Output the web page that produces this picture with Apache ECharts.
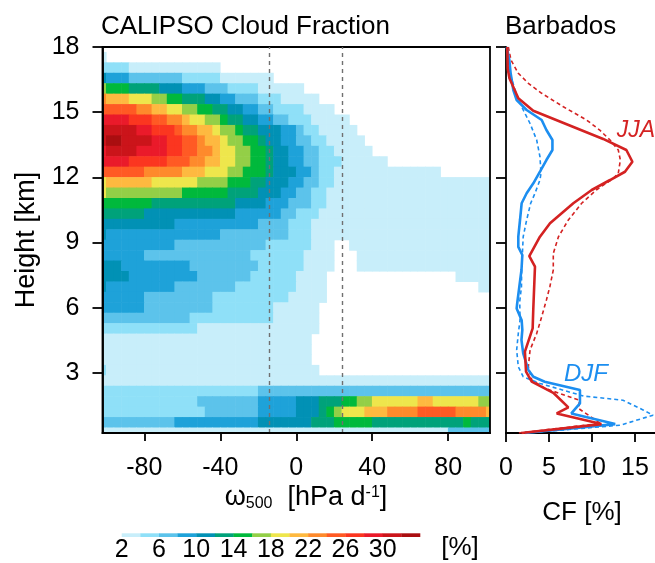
<!DOCTYPE html>
<html><head><meta charset="utf-8">
<script src="https://cdn.jsdelivr.net/npm/echarts@6/dist/echarts.min.js"></script>
<style>html,body{margin:0;padding:0;background:#fff}#c{width:655px;height:563px}</style>
</head><body><div id="c"></div>
<script>
// ---------- DATA ----------
const omega = [-102,-98,-94,-90,-86,-82,-78,-74,-70,-66,-62,-58,-54,-50,-46,-42,-38,-34,-30,-26,-22,-18,-14,-10,-6,-2,2,6,10,14,18,22,26,30,34,38,42,46,50,54,58,62,66,70,74,78,82,86,90,94,98,102];
const heightKm = [18.00,17.52,17.04,16.56,16.08,15.60,15.12,14.64,14.16,13.68,13.20,12.72,12.24,11.76,11.28,10.80,10.32,9.84,9.36,8.88,8.40,7.92,7.44,6.96,6.48,6.00,5.52,5.04,4.56,4.08,3.60,3.12,2.64,2.16,1.68,1.20,0.72,0.24];
const omegaBinWidth = 4;
const heightBinWidth = 0.48;
// cloud fraction [%], rows from top (18 km) to bottom (0.24 km), columns follow omega
const cloudFraction = [
[1,1,1,1,1,1,1,1,1,1,1,1,1,1,1,1,1,1,1,1,1,1,1,1,1,1,1,1,1,1,1,1,1,1,1,1,1,1,1,1,1,1,1,1,1,1,1,1,1,1,1,1],
[3,1,1,1,1,1,1,1,1,1,1,1,1,1,1,1,1,1,1,1,1,1,1,1,1,1,1,1,1,1,1,1,1,1,1,1,1,1,1,1,1,1,1,1,1,1,1,1,1,1,1,1],
[5,5,5,5,3,3,3,3,3,3,3,3,3,3,3,3,1,1,1,1,1,1,1,1,1,1,1,1,1,1,1,1,1,1,1,1,1,1,1,1,1,1,1,1,1,1,1,1,1,1,1,1],
[11,9,9,9,7,7,7,7,7,7,7,5,5,5,5,5,3,3,3,3,3,3,3,1,1,1,1,1,1,1,1,1,1,1,1,1,1,1,1,1,1,1,1,1,1,1,1,1,1,1,1,1],
[17,15,15,15,13,13,13,13,11,11,11,9,9,9,7,7,7,5,5,5,5,3,3,3,3,3,3,1,1,1,1,1,1,1,1,1,1,1,1,1,1,1,1,1,1,1,1,1,1,1,1,1],
[23,21,21,21,19,19,19,17,17,15,15,13,13,13,11,11,9,9,7,7,7,5,5,5,3,3,3,3,3,1,1,1,1,1,1,1,1,1,1,1,1,1,1,1,1,1,1,1,1,1,1,1],
[25,25,25,25,25,23,23,21,21,19,19,17,17,15,15,13,13,11,11,9,9,7,7,5,5,5,5,3,3,3,3,1,1,1,1,1,1,1,1,1,1,1,1,1,1,1,1,1,1,1,1,1],
[29,29,29,29,27,27,27,25,25,23,23,21,19,19,17,17,15,13,13,11,11,9,9,7,7,5,5,5,3,3,3,3,3,1,1,1,1,1,1,1,1,1,1,1,1,1,1,1,1,1,1,1],
[31,31,31,31,31,29,29,27,27,27,25,23,23,21,21,19,17,17,15,13,13,11,11,11,9,9,7,5,5,3,3,3,3,3,1,1,1,1,1,1,1,1,1,1,1,1,1,1,1,1,1,1],
[31,33,33,31,31,31,31,29,29,27,27,25,25,23,21,21,19,17,17,15,15,13,11,11,9,9,7,7,5,5,3,3,3,3,3,1,1,1,1,1,1,1,1,1,1,1,1,1,1,1,1,1],
[29,31,31,31,31,29,29,29,29,27,27,25,25,23,23,21,19,19,17,17,15,15,13,11,11,9,9,7,7,5,5,3,3,3,3,3,1,1,1,1,1,1,1,1,1,1,1,1,1,1,1,1],
[29,29,29,29,27,27,27,27,27,25,25,25,23,23,21,21,19,19,17,17,15,15,13,11,11,9,9,7,7,5,5,5,3,3,3,3,3,3,1,1,1,1,1,1,1,1,1,1,1,1,1,1],
[25,25,25,25,25,25,23,23,23,23,23,21,21,21,19,19,19,17,17,15,15,15,13,11,11,11,9,9,7,5,5,3,3,3,3,3,3,3,3,3,3,3,3,3,3,1,1,1,1,1,1,1],
[19,21,21,21,21,21,21,19,19,19,19,19,19,17,17,17,17,15,15,15,13,13,11,11,11,9,9,7,7,5,5,3,3,3,3,3,3,3,3,3,3,3,3,3,3,3,3,3,3,3,3,3],
[19,17,17,17,17,17,17,17,17,17,17,15,15,15,15,15,15,13,13,13,13,11,11,11,9,9,7,7,5,5,3,3,3,3,3,3,3,3,3,3,3,3,3,3,3,3,3,3,3,3,3,3],
[15,15,15,15,15,15,15,13,13,13,13,13,13,13,13,13,13,13,11,11,11,11,9,9,9,7,7,7,5,5,3,3,3,3,3,3,3,3,3,3,3,3,3,3,3,3,3,3,3,3,3,3],
[13,13,13,13,13,13,11,11,11,11,11,11,11,11,11,11,11,11,9,9,9,9,9,9,7,7,5,5,5,3,3,3,3,3,3,3,3,3,3,3,3,3,3,3,3,3,3,3,3,3,3,3],
[11,11,11,11,11,11,11,11,11,11,9,9,9,9,9,9,9,9,9,9,9,7,7,7,7,5,5,5,3,3,3,3,3,3,3,3,3,3,3,3,3,3,3,3,3,3,3,3,3,3,3,3],
[11,9,9,9,9,9,9,9,9,9,9,9,9,9,9,9,7,7,7,7,7,7,7,7,7,5,5,5,3,3,3,3,3,3,3,3,3,3,3,3,3,3,3,3,3,3,3,3,3,3,3,3],
[9,9,9,9,9,9,9,9,9,9,7,7,7,7,7,7,7,7,7,7,7,7,5,5,5,5,5,5,3,3,3,1,1,3,3,3,3,3,3,3,3,3,3,3,3,3,3,3,3,3,3,3],
[9,9,9,9,9,9,7,7,7,7,7,7,7,7,7,7,7,7,7,7,5,5,5,5,5,5,5,3,3,3,3,1,1,1,3,3,3,3,3,3,3,3,3,3,3,3,3,3,3,3,3,3],
[11,11,11,9,9,9,9,9,9,9,9,9,7,7,7,7,7,7,7,7,7,5,5,5,5,5,5,3,3,3,3,1,1,1,3,3,3,3,3,3,3,3,3,3,3,3,3,3,3,3,3,3],
[11,11,11,11,9,9,9,9,9,9,9,9,9,7,7,7,7,7,7,7,5,5,5,5,5,5,3,3,3,3,1,1,1,1,1,1,1,1,1,1,1,1,1,1,1,1,1,3,3,3,3,3],
[11,9,9,9,9,9,9,9,9,9,7,7,7,7,7,7,7,7,5,5,5,5,5,5,5,5,3,3,3,3,1,1,1,1,1,1,1,1,1,1,1,1,1,1,1,1,1,1,1,1,3,3],
[9,9,9,9,9,9,7,7,7,7,7,7,7,7,7,5,5,5,5,5,5,5,5,5,5,3,3,3,3,3,1,1,1,1,1,1,1,1,1,1,1,1,1,1,1,1,1,1,1,1,1,1],
[9,9,9,9,9,9,7,7,7,7,7,7,7,7,7,5,5,5,5,5,5,5,5,3,3,3,3,3,3,1,1,1,1,1,1,1,1,1,1,1,1,1,1,1,1,1,1,1,1,1,1,1],
[7,7,7,7,7,7,7,7,7,7,7,7,5,5,5,5,5,5,5,5,5,5,5,3,3,3,3,3,3,1,1,1,1,1,1,1,1,1,1,1,1,1,1,1,1,1,1,1,1,1,1,1],
[5,5,5,5,5,5,5,5,5,5,5,5,5,3,3,3,3,3,3,3,3,3,3,3,3,3,3,3,3,1,1,1,1,1,1,1,1,1,1,1,1,1,1,1,1,1,1,1,1,1,1,1],
[3,3,3,3,3,3,3,3,3,3,3,3,3,3,3,3,3,3,3,3,3,3,3,3,3,3,3,3,1,1,1,1,1,1,1,1,1,1,1,1,1,1,1,1,1,1,1,1,1,1,1,1],
[3,3,3,3,3,3,3,3,3,3,3,3,3,3,3,3,3,3,3,3,3,3,3,3,3,3,3,3,1,1,1,1,1,1,1,1,1,1,1,1,1,1,1,1,1,1,1,1,1,1,1,1],
[3,3,3,3,3,3,3,3,3,3,3,3,3,3,3,3,3,3,3,3,3,3,3,3,3,3,3,3,1,1,1,1,1,1,1,1,1,1,1,1,1,1,1,1,1,1,1,1,1,1,1,1],
[5,3,3,3,3,3,3,3,3,3,3,3,3,3,3,3,3,3,3,3,3,3,3,3,3,3,3,3,3,1,1,1,1,1,1,1,1,1,1,1,1,1,1,1,1,1,1,1,1,1,1,1],
[3,3,3,3,3,3,3,3,3,3,3,3,3,3,3,3,3,3,3,3,3,3,3,3,3,3,3,3,3,3,3,3,3,3,3,3,3,3,3,3,3,3,3,3,3,3,3,3,3,3,3,3],
[5,5,5,5,5,5,5,5,5,5,5,5,5,5,5,5,5,5,5,5,5,7,7,7,7,7,7,7,7,7,7,7,7,7,7,7,7,7,7,7,7,7,7,7,7,7,7,7,7,7,7,7],
[5,5,5,5,5,5,5,5,5,5,5,5,5,7,7,7,7,7,7,7,7,9,9,9,9,9,11,11,11,13,13,13,15,15,17,17,19,19,19,19,19,19,21,21,19,19,19,19,19,19,17,17],
[5,5,5,5,5,5,5,5,5,5,5,5,5,5,7,7,7,7,7,7,7,9,9,9,9,9,11,11,11,13,15,17,19,19,19,21,21,21,23,23,23,23,25,25,25,25,25,23,23,23,23,21],
[7,7,7,7,7,7,7,7,7,7,9,9,9,9,9,9,9,9,9,9,9,11,11,11,11,11,11,11,13,13,13,15,15,15,15,15,13,13,13,13,13,13,13,13,13,13,13,13,15,13,13,13],
[3,3,3,3,3,3,3,3,3,3,3,3,3,3,3,3,3,3,3,3,3,3,3,3,3,3,3,3,3,3,3,3,3,3,3,3,3,3,3,3,3,3,3,3,3,3,7,7,7,7,7,7]
];
const cfLevels = [2,4,6,8,10,12,14,16,18,20,22,24,26,28,30,32];
const cfColors = ['#c8eefa','#8fe0f8','#5cc3eb','#1ea2d9','#0191b5','#00a27a','#00b93c','#93cf47','#eee64c','#feb940','#fe8a2c','#ff5a24','#fb3620','#ea1a2a','#cb141a','#aa0e10'];
const colorbarLabels = [2,6,10,14,18,22,26,30];
const omegaTicks = [-80,-40,0,40,80];
const heightTicks = [3,6,9,12,15,18];
const cfTicks = [0,5,10,15];
const omegaMarks = [-14, 24];
// Barbados profiles [CF %, height km]
const jjaSolid = [[0.15,18.0],[0.2,17.0],[0.4,16.56],[1.43,15.64],[3.17,15.07],[11.3,13.77],[14.0,13.26],[14.7,12.72],[13.84,12.26],[12.1,11.88],[9.97,11.42],[7.83,10.81],[5.12,9.89],[3.95,9.27],[2.71,8.38],[3.37,7.89],[3.17,5.9],[3.1,5.05],[2.2,3.98],[2.33,3.06],[2.99,2.6],[5.5,2.09],[7.25,1.42],[5.9,1.14],[11.1,0.65],[1.8,0.24]];
const jjaDashed = [[0.27,18.0],[0.58,17.4],[1.43,16.79],[2.6,16.33],[4.15,15.87],[6.67,15.25],[9.38,14.64],[10.9,14.18],[12.1,13.72],[13.06,13.26],[13.3,12.8],[13.06,12.19],[12.5,11.96],[10.5,11.42],[8.8,10.81],[7.25,10.04],[6.1,9.27],[5.5,8.5],[5.5,7.74],[5.1,6.97],[4.7,6.36],[4.15,5.59],[3.57,4.82],[2.8,4.06],[2.6,3.29],[3.0,2.68],[4.5,2.3],[8.5,1.75],[8.5,1.35],[11.0,0.68],[1.5,0.24]];
const djfSolid = [[0.08,18.0],[0.39,17.4],[0.54,16.79],[0.85,16.02],[1.24,15.56],[2.4,15.1],[4.15,14.64],[4.7,14.18],[5.4,13.72],[5.4,13.26],[4.7,12.8],[4.0,12.3],[3.18,11.73],[2.4,11.27],[1.82,10.81],[1.63,10.04],[1.43,9.27],[1.43,8.8],[1.9,8.43],[1.8,7.74],[1.55,6.97],[1.3,6.2],[1.24,5.97],[1.82,5.43],[1.9,4.98],[1.8,4.52],[2.0,3.9],[2.6,3.14],[3.18,2.83],[4.5,2.6],[8.6,2.22],[8.6,1.6],[7.6,1.14],[12.7,0.65],[2.2,0.24]];
const djfDashed = [[0.15,18.0],[0.27,17.4],[0.47,16.79],[1.05,16.02],[1.82,15.25],[2.8,14.48],[3.57,13.72],[3.95,12.95],[4.07,12.19],[3.95,11.88],[3.37,11.27],[2.87,10.81],[2.4,10.04],[2.0,9.27],[1.9,8.43],[1.82,7.74],[1.8,6.97],[1.6,6.3],[1.63,5.43],[1.43,4.82],[1.24,4.06],[1.43,3.29],[2.0,2.83],[3.95,2.52],[9.0,1.94],[13.6,1.75],[16.0,1.29],[17.1,1.06],[13.3,0.6],[2.3,0.24]];

// ---------- CHART ----------
const FONT = "'Liberation Sans', Arial, Helvetica, sans-serif";
const RED = '#d42222', BLUE = '#1c8ef0';
function colorFor(v){
  if (v < cfLevels[0]) return null;
  let idx = 0;
  for (let k = 0; k < cfLevels.length; k++) if (v >= cfLevels[k]) idx = k;
  return cfColors[idx];
}
const heatData = [];
heightKm.forEach((h, i) => omega.forEach((w, j) => heatData.push([w, h, cloudFraction[i][j]])));

const chart = echarts.init(document.getElementById('c'), null, {renderer:'canvas'});
const axisLineStyle = {color:'#000', width:1.8};
const TICKFS = 25;
chart.setOption({
  animation:false,
  backgroundColor:'#fff',
  textStyle:{fontFamily:FONT},
  grid:[
    {left:102.5, top:47, width:387.5, height:386, show:true, borderColor:'#000', borderWidth:1.8, backgroundColor:'transparent', z:5},
    {left:506, top:47, width:149, height:386},
    {left:121.7, top:533.3, width:298.3, height:8.4}
  ],
  xAxis:[
    {type:'value', gridIndex:0, min:-102, max:102, z:6,
     axisLine:{show:true, onZero:false, lineStyle:axisLineStyle},
     axisTick:{show:true, length:8, lineStyle:axisLineStyle, customValues:omegaTicks},
     axisLabel:{customValues:omegaTicks, fontSize:TICKFS, color:'#000', margin:23, fontFamily:FONT},
     splitLine:{show:false}},
    {type:'value', gridIndex:1, min:0, max:17.33,
     axisLine:{show:true, onZero:false, lineStyle:axisLineStyle},
     axisTick:{show:true, length:9, lineStyle:axisLineStyle, customValues:cfTicks},
     axisLabel:{customValues:cfTicks, fontSize:TICKFS, color:'#000', margin:23, fontFamily:FONT},
     splitLine:{show:false}},
    {type:'value', gridIndex:2, min:2, max:34,
     axisLine:{show:false}, axisTick:{show:false},
     axisLabel:{customValues:colorbarLabels, fontSize:TICKFS, color:'#000', margin:1, fontFamily:FONT},
     splitLine:{show:false}}
  ],
  yAxis:[
    {type:'value', gridIndex:0, min:0.24, max:18, z:6,
     axisLine:{show:true, onZero:false, lineStyle:axisLineStyle},
     axisTick:{show:true, length:10, lineStyle:axisLineStyle, customValues:heightTicks},
     axisLabel:{customValues:heightTicks, fontSize:TICKFS, color:'#000', margin:23, fontFamily:FONT},
     splitLine:{show:false}},
    {type:'value', gridIndex:1, min:0.24, max:18,
     axisLine:{show:true, onZero:false, lineStyle:axisLineStyle},
     axisTick:{show:true, length:10, lineStyle:axisLineStyle, customValues:heightTicks},
     axisLabel:{show:false}, splitLine:{show:false}},
    {type:'value', gridIndex:2, min:0, max:1, show:false}
  ],
  series:[
    {type:'custom', xAxisIndex:0, yAxisIndex:0, data:heatData, encode:{x:0, y:1},
     renderItem:function(params, api){
       const w = api.value(0), h = api.value(1), v = api.value(2);
       const fill = colorFor(v);
       if (!fill) return null;
       const p0 = api.coord([w - omegaBinWidth/2, h + heightBinWidth/2]);
       const p1 = api.coord([w + omegaBinWidth/2, h - heightBinWidth/2]);
       const cs = params.coordSys;
       const rect = echarts.graphic.clipRectByRect(
         {x:p0[0]-0.3, y:p0[1]-0.3, width:p1[0]-p0[0]+0.6, height:p1[1]-p0[1]+0.6},
         {x:cs.x, y:cs.y, width:cs.width, height:cs.height});
       if (!rect) return null;
       return {type:'rect', shape:rect, style:{fill:fill}};
     },
     markLine:{silent:true, symbol:'none', label:{show:false},
       lineStyle:{color:'#707070', type:[4,4], width:1.4},
       data: omegaMarks.map(v => ({xAxis:v}))}
    },
    {type:'custom', xAxisIndex:2, yAxisIndex:2,
     data: cfLevels.map((lo, i) => [lo, i]),
     renderItem:function(params, api){
       const lo = api.value(0), i = api.value(1);
       const p0 = api.coord([lo, 1]);
       const p1 = api.coord([lo + 2, 0]);
       return {type:'rect', shape:{x:p0[0], y:p0[1], width:p1[0]-p0[0]+0.3, height:p1[1]-p0[1]}, style:{fill:cfColors[i]}};
     }},
    {type:'line', xAxisIndex:1, yAxisIndex:1, data:jjaDashed, symbol:'none', lineStyle:{color:RED, width:1.6, type:[4,3]}},
    {type:'line', xAxisIndex:1, yAxisIndex:1, data:djfDashed, symbol:'none', lineStyle:{color:BLUE, width:1.6, type:[4,3]}},
    {type:'line', xAxisIndex:1, yAxisIndex:1, data:djfSolid, symbol:'none', lineStyle:{color:BLUE, width:2.6}},
    {type:'line', xAxisIndex:1, yAxisIndex:1, data:jjaSolid, symbol:'none', lineStyle:{color:RED, width:2.6}}
  ],
  graphic:[
    {type:'text', x:101, y:27, style:{text:'CALIPSO Cloud Fraction', font:'26px '+FONT, fill:'#000', align:'left', verticalAlign:'middle'}},
    {type:'text', x:505, y:27, style:{text:'Barbados', font:'26px '+FONT, fill:'#000', align:'left', verticalAlign:'middle'}},
    {type:'text', x:27, y:240, rotation:Math.PI/2, style:{text:'Height [km]', font:'27px '+FONT, fill:'#000', align:'center', verticalAlign:'middle'}},
    {type:'text', x:306, y:498, style:{text:'{a|ω}{b|500}{a|  [hPa d}{c|-1}{a|]}', align:'center', verticalAlign:'middle', fill:'#000',
      rich:{a:{fontSize:27, fontFamily:FONT, fill:'#000'}, b:{fontSize:16, fontFamily:FONT, verticalAlign:'bottom', fill:'#000'}, c:{fontSize:16, fontFamily:FONT, verticalAlign:'top', fill:'#000'}}}},
    {type:'text', x:582, y:513, style:{text:'CF [%]', font:'26px '+FONT, fill:'#000', align:'center', verticalAlign:'middle'}},
    {type:'text', x:460, y:548, style:{text:'[%]', font:'26px '+FONT, fill:'#000', align:'center', verticalAlign:'middle'}},
    {type:'text', x:636, y:131, style:{text:'JJA', font:'italic 23px '+FONT, fill:RED, align:'center', verticalAlign:'middle'}},
    {type:'text', x:586, y:374, style:{text:'DJF', font:'italic 24px '+FONT, fill:BLUE, align:'center', verticalAlign:'middle'}}
  ]
});
</script></body></html>
